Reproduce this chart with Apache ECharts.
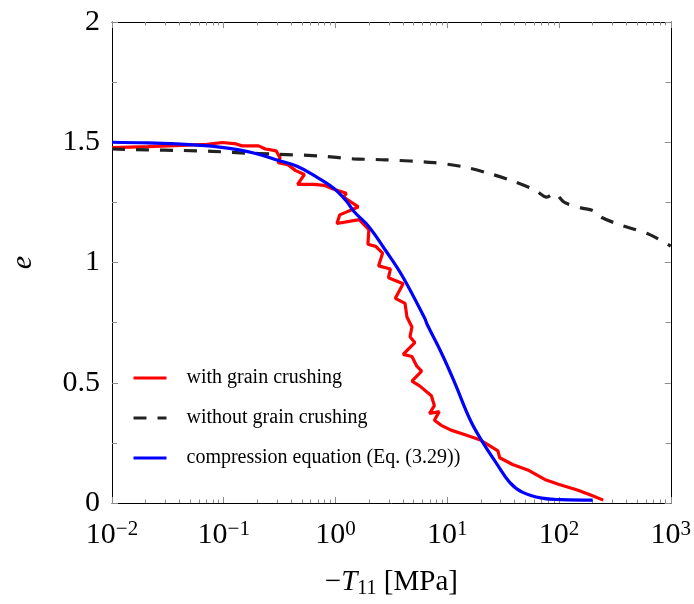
<!DOCTYPE html>
<html>
<head>
<meta charset="utf-8">
<script src="https://cdn.jsdelivr.net/npm/echarts@6/dist/echarts.min.js"></script>
<style>html,body{margin:0;padding:0;background:#fff;}#c{width:694px;height:604px;}</style>
</head>
<body>
<div id="c"></div>
<script>
// ---- data ----
const redT = [0.01,0.021,0.041,0.0705,0.0973,0.129,0.146,0.205,0.236,0.266,0.294,0.319,0.306,0.375,0.440,0.527,0.458,0.645,0.79,0.965,1.25,1.18,1.60,1.09,1.03,1.63,1.99,1.95,2.29,2.64,2.43,3.10,2.98,4.03,3.43,4.19,4.36,4.83,4.64,5.13,4.03,4.83,5.34,5.90,4.83,5.66,7.21,7.67,6.93,8.48,7.67,8.83,10.8,14.9,19.8,25.7,28.4,29.5,38.4,54.0,74.5,98.8,148,192,249];
const redE = [1.478,1.482,1.487,1.491,1.499,1.493,1.485,1.485,1.472,1.468,1.464,1.436,1.415,1.407,1.382,1.366,1.325,1.325,1.321,1.305,1.288,1.272,1.231,1.198,1.162,1.178,1.137,1.076,1.067,1.039,0.986,0.973,0.937,0.912,0.851,0.830,0.773,0.732,0.691,0.667,0.618,0.609,0.569,0.548,0.507,0.487,0.446,0.405,0.372,0.380,0.344,0.323,0.303,0.282,0.262,0.229,0.217,0.188,0.160,0.135,0.098,0.078,0.053,0.033,0.012];

const blackT = [0.01,0.021,0.041,0.0795,0.158,0.266,0.728,1.44,2.80,7.67,13.5,22.3,36.9,61.0,77.6,91.2,111,157,204,244,351,642,1000];
const blackE = [1.472,1.468,1.466,1.462,1.455,1.451,1.443,1.431,1.427,1.415,1.399,1.374,1.342,1.301,1.272,1.288,1.251,1.227,1.215,1.186,1.157,1.117,1.068];

const blueT = [0.01,0.021,0.041,0.058,0.092,0.137,0.205,0.306,0.458,0.685,0.964,1.25,1.47,1.99,2.80,3.95,6.27,6.65,8.83,11.5,16.1,21.0,27.3,36.2,46.9,70.2,105,200];
const blueE = [1.500,1.497,1.492,1.488,1.480,1.468,1.450,1.425,1.399,1.354,1.309,1.256,1.211,1.149,1.051,0.945,0.769,0.740,0.626,0.507,0.344,0.249,0.168,0.086,0.045,0.020,0.014,0.012];

const seriesNames = ['with grain crushing','without grain crushing','compression equation (Eq. (3.29))'];
const xMajor = [0.01,0.1,1,10,100,1000];
const xMinor = [];
[0.01,0.1,1,10,100].forEach(d => { for (let k = 2; k <= 9; k++) xMinor.push(+(d*k).toPrecision(3)); });

const zip = (a, b) => a.map((v, i) => [v, b[i]]);
const FONT = '"Liberation Serif", "Times New Roman", serif';
const TICK = '#8c8c8c';

function expLabel(v) {
  const p = Math.round(Math.log10(v));
  return '{b|10}{s|' + (p < 0 ? '\u2212' + (-p) : p) + '}';
}

function logAxis(pos, major, showLabel) {
  return {
    type: 'log', logBase: 10, min: 0.01, max: 1000, position: pos,
    axisLine: { show: major, onZero: false, lineStyle: { color: '#000', width: 1 } },
    axisTick: { show: true, inside: true, length: major ? 6 : 3.5,
      customValues: major ? xMajor : xMinor, lineStyle: { color: TICK, width: 1 } },
    minorTick: { show: false },
    splitLine: { show: false },
    axisLabel: showLabel ? {
      show: true, customValues: xMajor, margin: 16,
      formatter: expLabel,
      rich: {
        b: { fontFamily: FONT, fontSize: 30, color: '#000', lineHeight: 32 },
        s: { fontFamily: FONT, fontSize: 21, color: '#000', verticalAlign: 'top', lineHeight: 20 }
      }
    } : { show: false },
    name: showLabel ? '\u2212{i|T}{s|11} [MPa]' : '',
    nameLocation: 'middle', nameGap: 62,
    nameTextStyle: {
      fontFamily: FONT, fontSize: 29, color: '#000', lineHeight: 34,
      rich: {
        i: { fontFamily: FONT, fontSize: 29, fontStyle: 'italic', color: '#000', lineHeight: 34 },
        s: { fontFamily: FONT, fontSize: 20, color: '#000', verticalAlign: 'bottom', lineHeight: 18 }
      }
    }
  };
}

function valAxis(pos, showLabel) {
  return {
    type: 'value', min: 0, max: 2, interval: 0.5, position: pos,
    axisLine: { show: true, onZero: false, lineStyle: { color: '#000', width: 1 } },
    axisTick: { show: true, inside: true, length: 6, lineStyle: { color: TICK, width: 1 } },
    minorTick: { show: true, splitNumber: 2, length: 5, lineStyle: { color: TICK, width: 1 } },
    splitLine: { show: false },
    axisLabel: { show: showLabel, fontFamily: FONT, fontSize: 30, color: '#000', margin: 12 },
    name: showLabel ? 'e' : '',
    nameLocation: 'middle', nameRotate: 90, nameGap: 74,
    nameTextStyle: { fontFamily: FONT, fontSize: 30, fontStyle: 'italic', color: '#000' }
  };
}

const chart = echarts.init(document.getElementById('c'), null, { renderer: 'canvas' });
chart.setOption({
  animation: false,
  backgroundColor: '#fff',
  grid: { left: 100, right: 22, top: 22, bottom: 93, containLabel: false },
  xAxis: [logAxis('bottom', true, true), logAxis('bottom', false, false),
          logAxis('top', true, false), logAxis('top', false, false)],
  yAxis: [valAxis('left', true), valAxis('right', false)],
  legend: {
    orient: 'vertical', left: 127, top: 363,
    itemWidth: 33, itemHeight: 14, itemGap: 20,
    data: seriesNames,
    itemStyle: { opacity: 0 },
    lineStyle: { width: 3 },
    textStyle: { fontFamily: FONT, fontSize: 20, color: '#000', lineHeight: 20, padding: [0, 0, 0, 15] }
  },
  series: [
    { name: seriesNames[0], type: 'line', data: zip(redT, redE), symbol: 'none', showSymbol: false,
      lineStyle: { color: '#ff0000', width: 3.2 }, itemStyle: { color: '#ff0000' } },
    { name: seriesNames[1], type: 'line', data: zip(blackT, blackE), symbol: 'none', showSymbol: false, smooth: 0.3,
      lineStyle: { color: '#222', width: 3.2, type: [13, 11] }, itemStyle: { color: '#222' } },
    { name: seriesNames[2], type: 'line', data: zip(blueT, blueE), symbol: 'none', showSymbol: false, smooth: 0.4,
      lineStyle: { color: '#0000ff', width: 3.2 }, itemStyle: { color: '#0000ff' } }
  ]
});
</script>
</body>
</html>
